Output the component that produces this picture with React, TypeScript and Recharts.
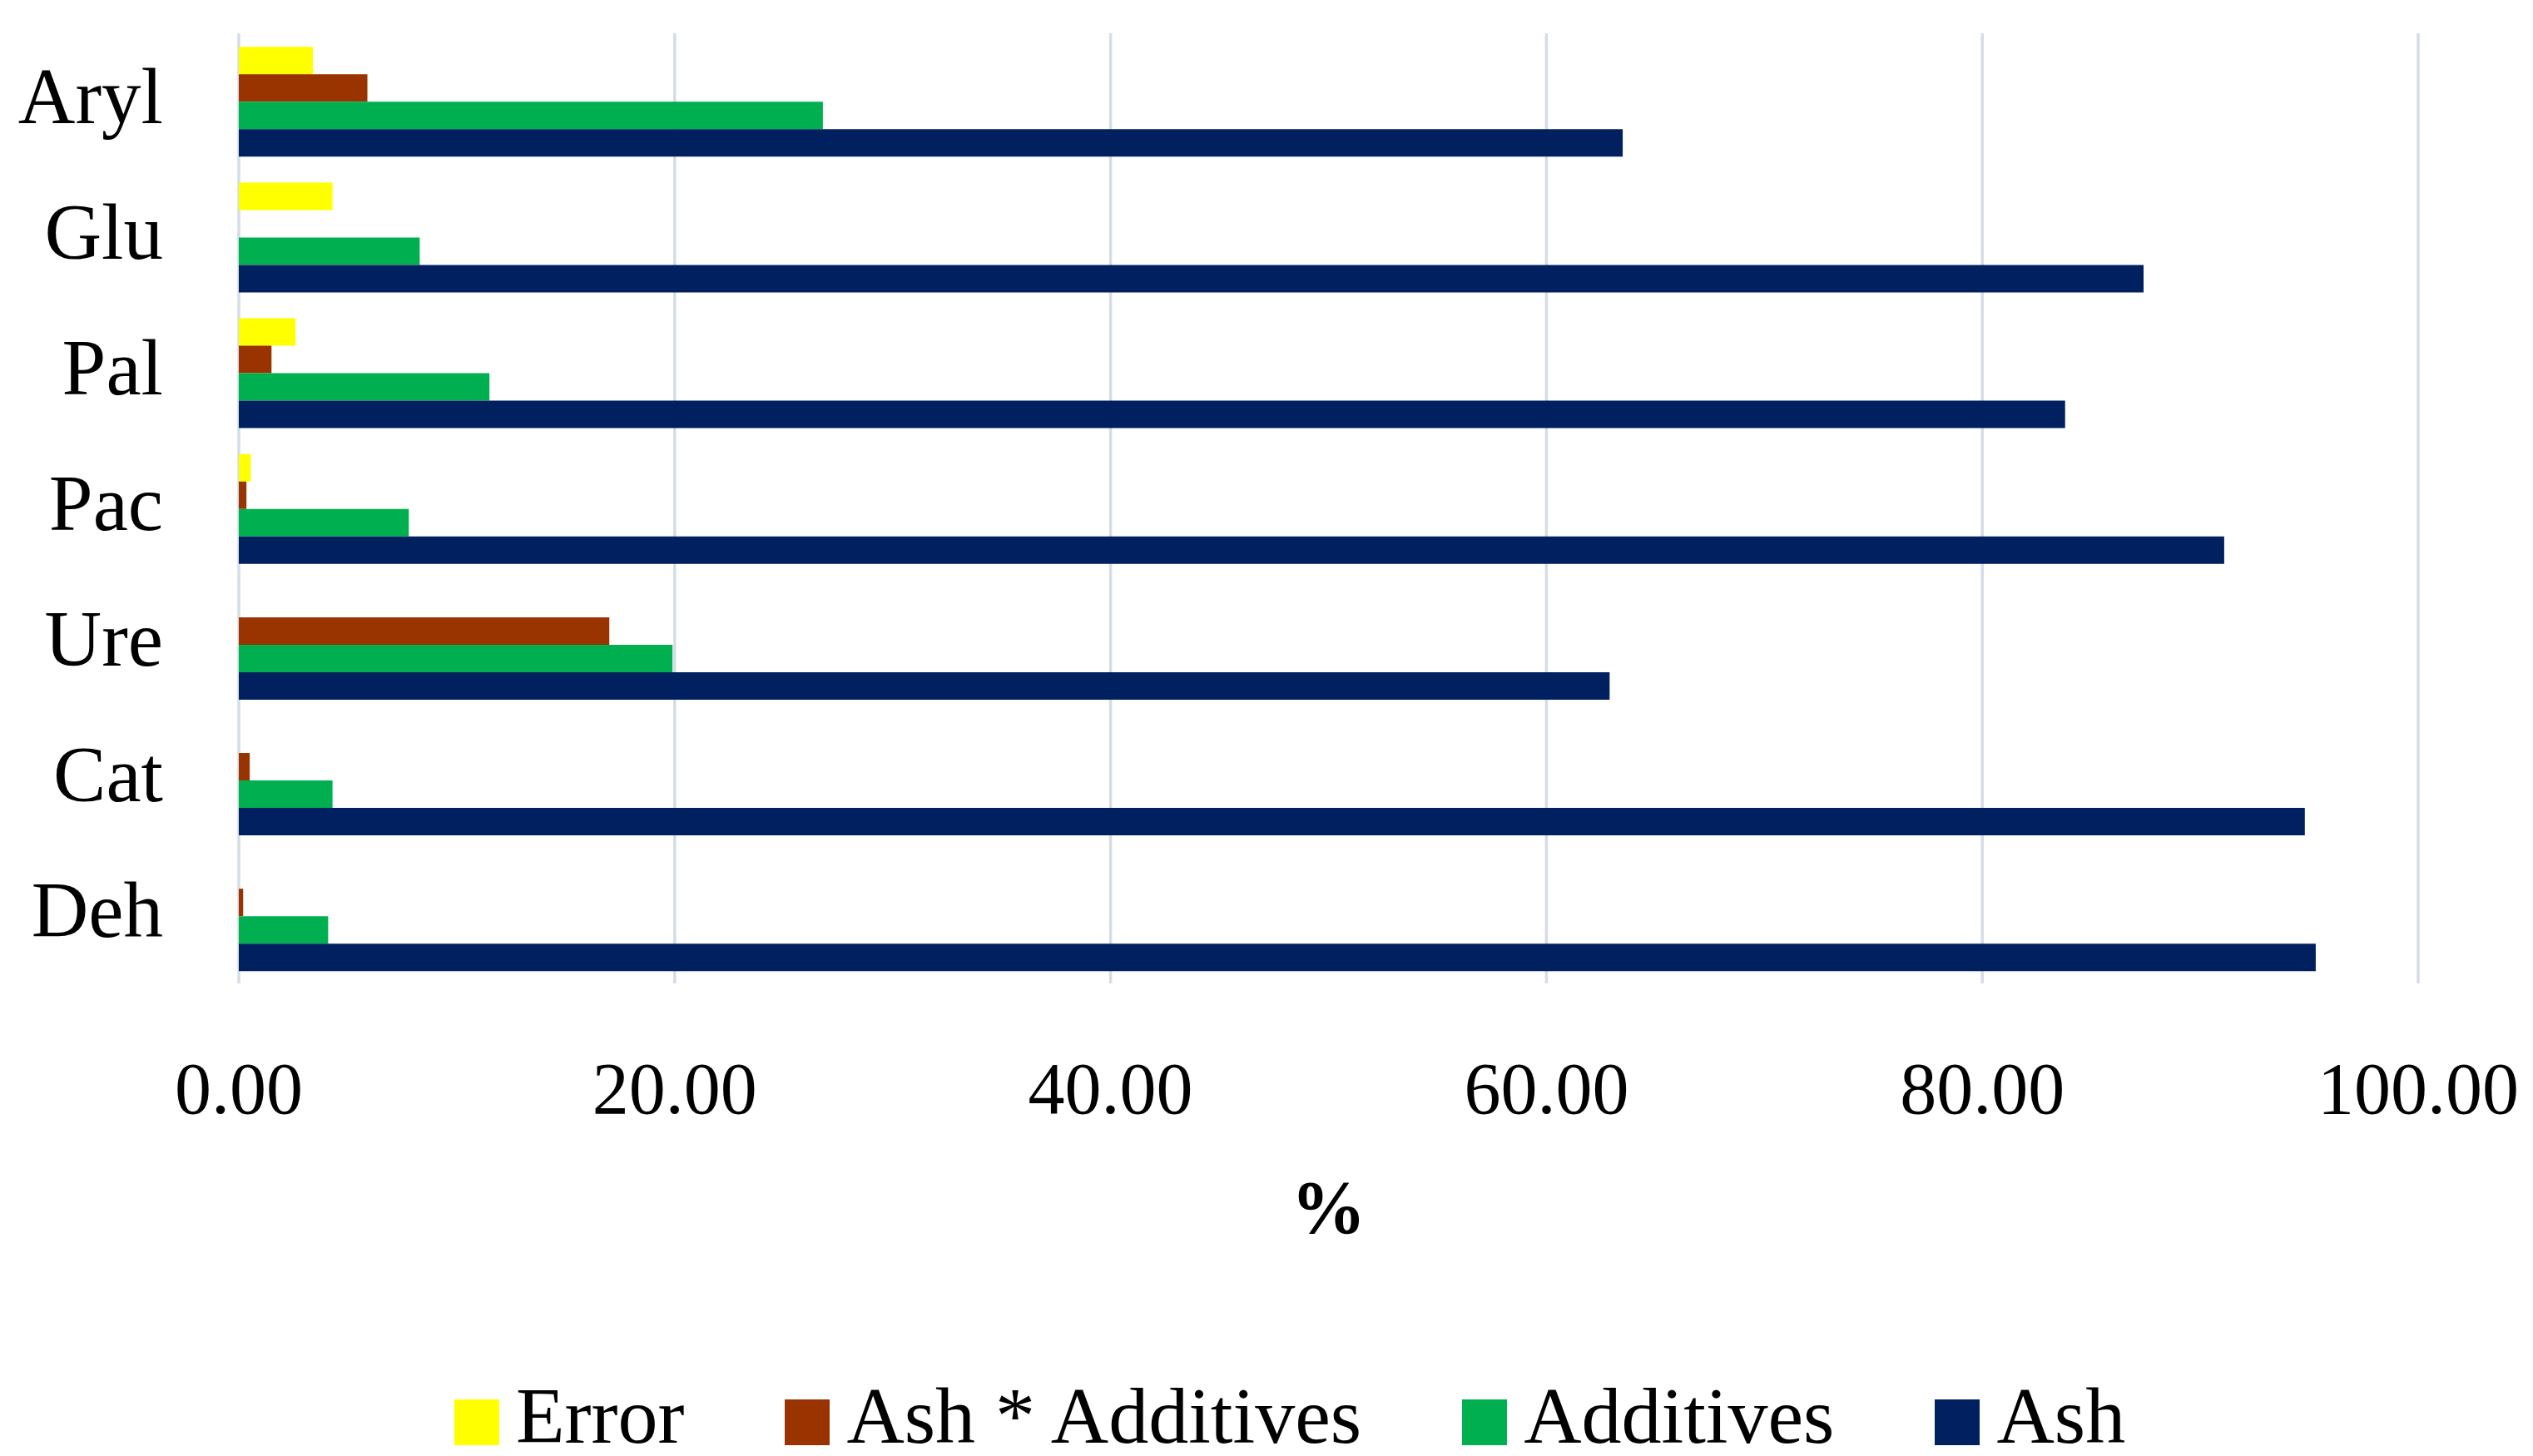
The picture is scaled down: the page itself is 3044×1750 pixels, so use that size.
import React from 'react';
import { BarChart, Bar, XAxis, YAxis, CartesianGrid, Legend } from 'recharts';

const categories = ['Aryl', 'Glu', 'Pal', 'Pac', 'Ure', 'Cat', 'Deh'];
const seriesNames = ['Error', 'Ash * Additives', 'Additives', 'Ash'];
const errorValues = [3.4, 4.3, 2.6, 0.55, 0, 0, 0];
const ashAdditivesValues = [5.9, 0, 1.5, 0.35, 17.0, 0.5, 0.2];
const additivesValues = [26.8, 8.3, 11.5, 7.8, 19.9, 4.3, 4.1];
const ashValues = [63.5, 87.4, 83.8, 91.1, 62.9, 94.8, 95.3];
const xTicks = [0, 20, 40, 60, 80, 100];

const data = categories.map((name, i) => ({
  name,
  Error: errorValues[i],
  'Ash * Additives': ashAdditivesValues[i],
  Additives: additivesValues[i],
  Ash: ashValues[i],
}));

const FONT = '"Liberation Serif", "Times New Roman", serif';

const YTick = ({ x, y, payload }: any) => (
  <text x={x} y={y} dy={26} textAnchor="end" fontFamily={FONT} fontSize={95} fill="#000">
    {payload.value}
  </text>
);

const XTick = ({ x, y, payload }: any) => (
  <text x={x} y={y} dy={156} textAnchor="middle" fontFamily={FONT} fontSize={88} fill="#000">
    {Number(payload.value).toFixed(2)}
  </text>
);

const AxisTitle = ({ viewBox }: any) => (
  <text
    x={viewBox.x + viewBox.width / 2}
    y={viewBox.y + 300}
    textAnchor="middle"
    fontFamily={FONT}
    fontSize={90}
    fontWeight="bold"
    fill="#000"
  >
    %
  </text>
);

const LegendContent = ({ payload }: any) => {
  // keep series order instead of the alphabetical default
  const items = [...(payload || [])].sort(
    (a: any, b: any) => seriesNames.indexOf(a.value) - seriesNames.indexOf(b.value)
  );
  return (
    <div
      style={{
        height: 268,
        boxSizing: 'border-box',
        paddingTop: 170,
        paddingLeft: 56,
        display: 'flex',
        justifyContent: 'center',
        alignItems: 'flex-start',
      }}
    >
      {items.map((entry: any, i: number) => (
        <div
          key={entry.value}
          style={{
            display: 'flex',
            alignItems: 'center',
            height: 100,
            marginRight: i < items.length - 1 ? 121 : 0,
          }}
        >
          <span style={{ width: 54, height: 55, background: entry.color, marginRight: 20, marginTop: 14 }} />
          <span style={{ fontFamily: FONT, fontSize: 96, color: '#000', lineHeight: '100px' }}>{entry.value}</span>
        </div>
      ))}
    </div>
  );
};

export default function App() {
  return (
    <div style={{ position: 'absolute', left: 0, top: 0, background: '#fff' }}>
      <BarChart
        width={3044}
        height={1750}
        data={data}
        layout="vertical"
        margin={{ top: 40, right: 138, left: 0, bottom: 0 }}
        barCategoryGap="10%"
        barGap={0}
      >
        <CartesianGrid horizontal={false} stroke="#D6DCE6" strokeWidth={3.5} />
        <XAxis
          type="number"
          domain={[0, 100]}
          ticks={xTicks}
          axisLine={false}
          tickLine={false}
          tickSize={0}
          tickMargin={0}
          height={300}
          tick={<XTick />}
          label={<AxisTitle />}
          interval={0}
        />
        <YAxis
          type="category"
          dataKey="name"
          width={287}
          axisLine={false}
          tickLine={false}
          tickSize={0}
          tickMargin={91}
          tick={<YTick />}
          interval={0}
        />
        <Legend
          verticalAlign="bottom"
          content={<LegendContent />}
          wrapperStyle={{ left: 0, width: 3044 }}
        />
        <Bar dataKey="Error" fill="#FFFF00" isAnimationActive={false} />
        <Bar dataKey="Ash * Additives" fill="#993300" isAnimationActive={false} />
        <Bar dataKey="Additives" fill="#00B050" isAnimationActive={false} />
        <Bar dataKey="Ash" fill="#002060" isAnimationActive={false} />
      </BarChart>
    </div>
  );
}
